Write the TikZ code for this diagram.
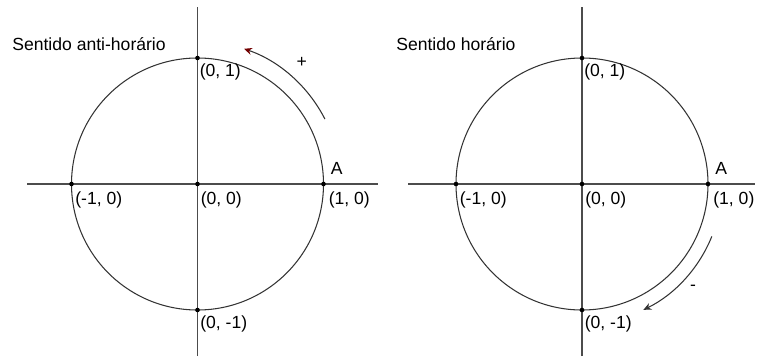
\documentclass[tikz,border=0pt]{standalone}
\usepackage{fontspec}
\setmainfont{Liberation Sans}
\usetikzlibrary{arrows.meta}
\tikzset{
  axln/.style={line width=0.6pt,black!70},
  circ/.style={line width=0.6pt,black!80},
  pt/.style={circle,fill=black,inner sep=0pt,minimum size=2.6pt},
  lbl/.style={inner sep=0pt,font=\normalsize},
  dirarc/.style={line width=0.6pt,black!80,-{Stealth[length=4.5pt,width=4pt]}},
}
\begin{document}
\begin{tikzpicture}[x=0.02cm,y=0.02cm]
  \useasboundingbox (0,0) rectangle (757,356);
  % the two unit circles with axes
  \foreach \cx/\nm/\xl/\xr in {197.5/L/27/378, 582/R/408/755}{
    \coordinate (O\nm) at (\cx,172);
    \coordinate (E\nm) at (\cx+126,172);
    \coordinate (W\nm) at (\cx-126,172);
    \coordinate (N\nm) at (\cx,298);
    \coordinate (S\nm) at (\cx,46);
    \coordinate (HL\nm) at (\xl,172);
    \coordinate (HR\nm) at (\xr,172);
    \coordinate (VT\nm) at (\cx,349);
    \coordinate (VB\nm) at (\cx,0);
    \draw[axln] (HL\nm) -- (HR\nm);
    \draw[axln] (VB\nm) -- (VT\nm);
    \draw[circ] (O\nm) circle[radius=126];
    \foreach \p in {O,E,W,N,S}
      \node[pt] at (\p\nm) {};
    \node[lbl,anchor=north west] at ([shift={(2,-5)}]N\nm) {(0, 1)};
    \node[lbl,anchor=north west] at ([shift={(3,-7.5)}]O\nm) {(0, 0)};
    \node[lbl,anchor=north west] at ([shift={(3.5,-7.5)}]W\nm) {(-1, 0)};
    \node[lbl,anchor=north west] at ([shift={(5,-7.5)}]E\nm) {(1, 0)};
    \node[lbl,anchor=north west] at ([shift={(2.5,-5)}]S\nm) {(0, -1)};
    \node[lbl,anchor=south west] at ([shift={(7,9)}]E\nm) {A};
  }
  \node[lbl,anchor=base west] (titleL) at (12,306) {Sentido anti-horário};
  \node[lbl,anchor=base west] (titleR) at (396,306) {Sentido horário};
  % direction arrows
  \draw[dirarc,-{Stealth[length=4.5pt,width=4pt,color=red!45!black]}]
    ([shift={(27:143)}]OL) arc[start angle=27,end angle=71,radius=143];
  \node[lbl] (plus) at (301.7,293.3) {+};
  \draw[dirarc] ([shift={(-22:140)}]OR) arc[start angle=-22,end angle=-64,radius=140];
  \node[lbl] (minus) at (693,68) {-};
\end{tikzpicture}
\end{document}
